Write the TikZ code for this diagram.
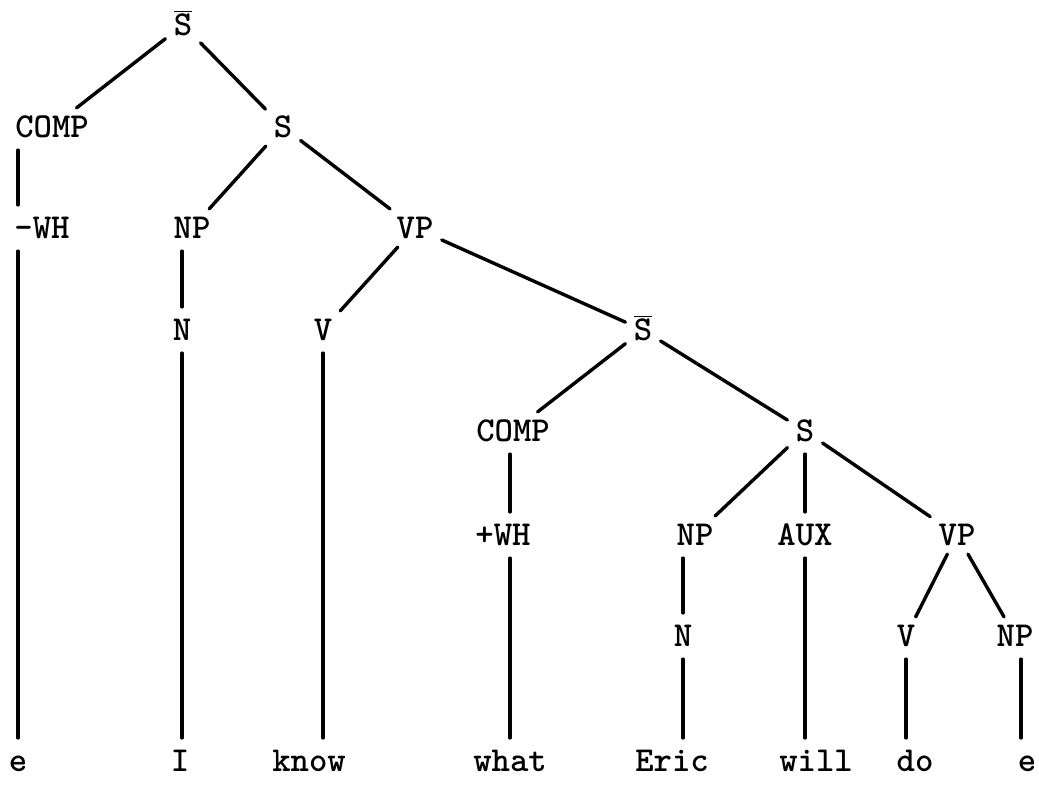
\documentclass[tikz,border=0pt]{standalone}
\newcommand{\barS}{$\overline{\hbox{S}}$}

\begin{document}
\begin{tikzpicture}[x=0.5pt, y=-0.5pt,
    lbl/.style = {font=\fontsize{17.5}{20}\selectfont\ttfamily\bfseries,
                  inner sep=4pt, text height=10.7pt, text depth=0pt},
    br/.style   = {draw, line width=1.7pt, line cap=round},
    stem/.style = {br, shorten <=2pt, shorten >=2pt}
  ]
  \useasboundingbox (0,0) rectangle (1039,784);

  % categories
  \node[lbl] (sb1)   at (183,25)   {\barS};
  \node[lbl] (comp1) at (52,127)   {COMP};
  \node[lbl] (s1)    at (283,127)  {S};
  \node[lbl] (wh1)   at (42,228)   {-WH};
  \node[lbl] (np1)   at (192,228)  {NP};
  \node[lbl] (vp1)   at (415,228)  {VP};
  \node[lbl] (n1)    at (182,330)  {N};
  \node[lbl] (v1)    at (323,330)  {V};
  \node[lbl] (sb2)   at (643,330)  {\barS};
  \node[lbl] (comp2) at (513,431)  {COMP};
  \node[lbl] (s2)    at (805,431)  {S};
  \node[lbl] (wh2)   at (503,535)  {+WH};
  \node[lbl] (np2)   at (695,535)  {NP};
  \node[lbl] (aux)   at (805,535)  {AUX};
  \node[lbl] (vp2)   at (957,535)  {VP};
  \node[lbl] (n2)    at (683,636)  {N};
  \node[lbl] (v2)    at (906,636)  {V};
  \node[lbl] (np3)   at (1015,636) {NP};

  % words
  \node[lbl] (e1)    at (18,761)   {e};
  \node[lbl] (i1)    at (180,761)  {I};
  \node[lbl] (know)  at (309,761)  {know};
  \node[lbl] (what)  at (510,761)  {what};
  \node[lbl] (eric)  at (672,761)  {Eric};
  \node[lbl] (will)  at (816,761)  {will};
  \node[lbl] (do)    at (915,761)  {do};
  \node[lbl] (e2)    at (1027,761) {e};

  \path[br]
  (sb1) edge (comp1)
        edge (s1)
  (s1)  edge (np1)
        edge (vp1)
  (vp1) edge (v1)
        edge (sb2)
  (sb2) edge (comp2)
        edge (s2)
  (s2)  edge (np2)
        edge (vp2)
  (vp2) edge (v2)
        edge (np3)
  ;

  \path[stem]
  (comp1.south -| e1) edge (wh1.north -| e1)
  (wh1.south -| e1)   edge (e1.north)
  (np1.south -| n1)   edge (n1)
  (n1)                edge (i1.north -| n1)
  (v1)                edge (know.north -| v1)
  (comp2.south -| what) edge (wh2.north -| what)
  (wh2.south -| what) edge (what)
  (np2.south -| n2)   edge (n2)
  (n2)                edge (eric.north -| n2)
  (s2)                edge (aux)
  (aux)               edge (will.north -| aux)
  (v2)                edge (do.north -| v2)
  ([xshift=3pt]np3.south) edge ([xshift=3pt]np3.south |- e2.north)
  ;
\end{tikzpicture}
\end{document}
